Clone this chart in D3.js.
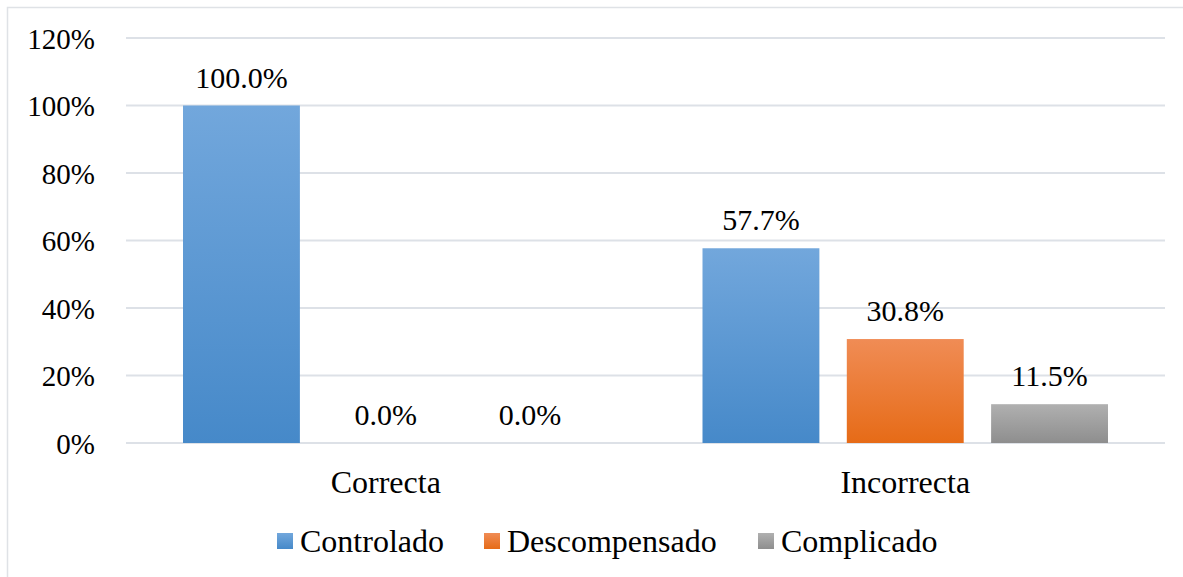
<!DOCTYPE html>
<html>
<head>
<meta charset="utf-8">
<script src="https://cdn.jsdelivr.net/npm/d3@7"></script>
<style>
  #chart svg text { font-family: 'Liberation Serif', serif; }
</style>
</head>
<body style="margin:0; background:#fff">
<div id="chart"></div>
<script>
const categories = ['Correcta', 'Incorrecta'];
const seriesNames = ['Controlado', 'Descompensado', 'Complicado'];
const controlado = [100.0, 57.7];
const descompensado = [0.0, 30.8];
const complicado = [0.0, 11.5];
const yTicks = [0, 20, 40, 60, 80, 100, 120];

const seriesValues = [controlado, descompensado, complicado];
const gradients = [
  ['#72a7dc', '#4689c9'],
  ['#f08c55', '#e66b17'],
  ['#b0b0b0', '#8e8e8e']
];

const FONT = 'Liberation Serif, serif';

const width = 1183, height = 577;
const margin = { top: 38, right: 18, bottom: 134, left: 126 };
const plotW = width - margin.left - margin.right;
const plotH = height - margin.top - margin.bottom;

const svg = d3.select('#chart').append('svg')
  .attr('width', width)
  .attr('height', height)
  .style('display', 'block');

// chart border (only top/left are visible in the reference)
svg.append('rect')
  .attr('x', 7.5).attr('y', 7.5)
  .attr('width', width + 20).attr('height', height + 20)
  .attr('fill', 'none')
  .attr('stroke', '#dfe2e6')
  .attr('stroke-width', 1.5);

const defs = svg.append('defs');
gradients.forEach((c, i) => {
  const lg = defs.append('linearGradient')
    .attr('id', 'grad' + i)
    .attr('x1', 0).attr('y1', 0).attr('x2', 0).attr('y2', 1);
  lg.append('stop').attr('offset', '0%').attr('stop-color', c[0]);
  lg.append('stop').attr('offset', '100%').attr('stop-color', c[1]);
});

const g = svg.append('g')
  .attr('transform', 'translate(' + margin.left + ',' + margin.top + ')');

const y = d3.scaleLinear().domain([0, 120]).range([plotH, 0]);
const x0 = d3.scaleBand().domain(categories).range([0, plotW]).paddingInner(0).paddingOuter(0);
const x1 = d3.scaleBand().domain(seriesNames).range([57, x0.bandwidth() - 57]).paddingInner(0.19).paddingOuter(0);

// gridlines
g.selectAll('line.grid').data(yTicks).enter()
  .append('line')
  .attr('class', 'grid')
  .attr('x1', 0).attr('x2', plotW)
  .attr('y1', d => y(d)).attr('y2', d => y(d))
  .attr('stroke', '#dde1e7')
  .attr('stroke-width', 2);

// y axis labels
const yAxis = d3.axisLeft(y).tickValues(yTicks).tickFormat(d => d + '%').tickSize(0).tickPadding(31);
g.append('g').call(yAxis)
  .attr('font-family', FONT)
  .attr('font-size', 29)
  .call(s => s.select('.domain').remove())
  .selectAll('text')
  .attr('fill', '#000')
  .attr('dy', '0.35em');

// x axis labels
const xAxis = d3.axisBottom(x0).tickSize(0).tickPadding(27);
g.append('g').attr('transform', 'translate(0,' + plotH + ')').call(xAxis)
  .attr('font-family', FONT)
  .attr('font-size', 32)
  .call(s => s.select('.domain').remove())
  .selectAll('text')
  .attr('fill', '#000');

// bars
const groups = g.selectAll('g.cat').data(categories).enter()
  .append('g')
  .attr('class', 'cat')
  .attr('transform', d => 'translate(' + x0(d) + ',0)');

groups.each(function(cat, ci) {
  const grp = d3.select(this);
  seriesNames.forEach((s, si) => {
    const v = seriesValues[si][ci];
    grp.append('rect')
      .attr('x', x1(s))
      .attr('y', y(v))
      .attr('width', x1.bandwidth())
      .attr('height', y(0) - y(v))
      .attr('fill', 'url(#grad' + si + ')');
    grp.append('text')
      .attr('x', x1(s) + x1.bandwidth() / 2)
      .attr('y', y(v) - 18)
      .attr('text-anchor', 'middle')
      .attr('font-family', FONT)
      .attr('font-size', 30)
      .text(v.toFixed(1) + '%');
  });
});

// legend
const legendX = [277, 484, 758];
const legend = svg.append('g').attr('transform', 'translate(0,541)');
seriesNames.forEach((s, i) => {
  legend.append('rect')
    .attr('x', legendX[i]).attr('y', -8)
    .attr('width', 16).attr('height', 16)
    .attr('fill', 'url(#grad' + i + ')');
  legend.append('text')
    .attr('x', legendX[i] + 23).attr('y', 0)
    .attr('dy', '0.35em')
    .attr('font-family', FONT)
    .attr('font-size', 32)
    .text(s);
});
</script>
</body>
</html>
